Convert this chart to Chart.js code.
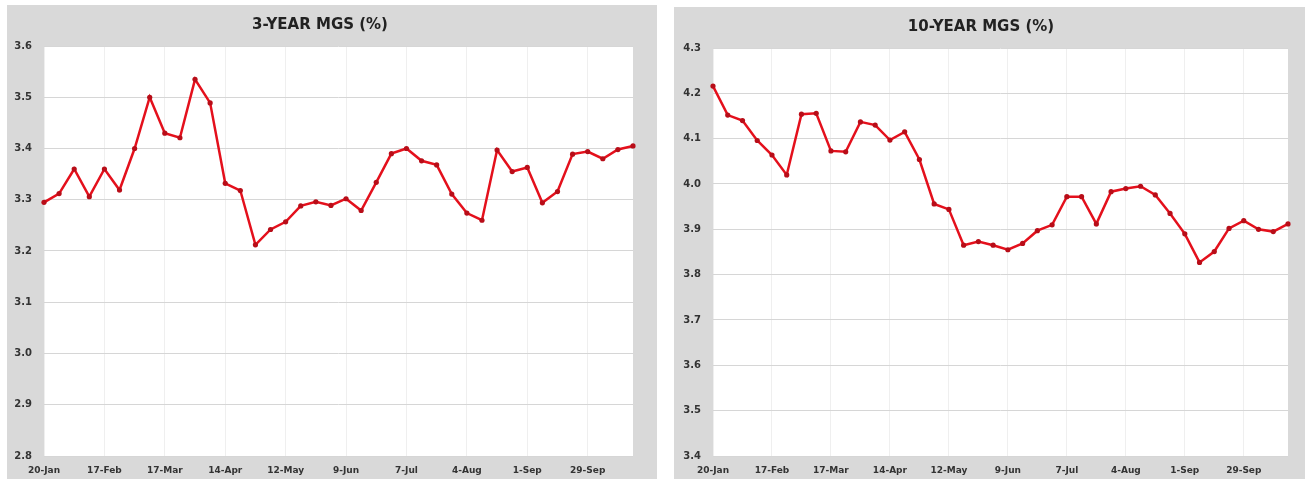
<!DOCTYPE html>
<html>
<head>
<meta charset="utf-8">
<title>MGS yields</title>
<script src="https://cdn.jsdelivr.net/npm/chart.js@4/dist/chart.umd.min.js"></script>
<style>
  html, body { margin: 0; padding: 0; background: #ffffff; width: 1307px; height: 479px; overflow: hidden; }
  .panel { position: absolute; background: #d9d9d9; }
  #p3 { left: 7px; top: 5px; width: 650px; height: 474px; }
  #p10 { left: 674px; top: 7px; width: 631px; height: 472px; }
  canvas { display: block; }
</style>
</head>
<body>
<div class="panel" id="p3"><canvas id="c3" width="650" height="474"></canvas></div>
<div class="panel" id="p10"><canvas id="c10" width="631" height="472"></canvas></div>
<script>
// Weekly observation dates
const weekLabels = [
  '20-Jan','27-Jan','3-Feb','10-Feb','17-Feb','24-Feb','3-Mar','10-Mar','17-Mar','24-Mar',
  '31-Mar','7-Apr','14-Apr','21-Apr','28-Apr','5-May','12-May','19-May','26-May','2-Jun',
  '9-Jun','16-Jun','23-Jun','30-Jun','7-Jul','14-Jul','21-Jul','28-Jul','4-Aug','11-Aug',
  '18-Aug','25-Aug','1-Sep','8-Sep','15-Sep','22-Sep','29-Sep','6-Oct','13-Oct','20-Oct'
];

// 3-year MGS yield (%)
const mgs3y = [
  3.295, 3.312, 3.360, 3.306, 3.360, 3.319, 3.400, 3.500, 3.430, 3.421,
  3.535, 3.489, 3.332, 3.318, 3.212, 3.242, 3.257, 3.288, 3.296, 3.289,
  3.302, 3.279, 3.334, 3.390, 3.400, 3.376, 3.368, 3.311, 3.274, 3.260,
  3.397, 3.355, 3.363, 3.294, 3.316, 3.389, 3.394, 3.380, 3.398, 3.405
];

// 10-year MGS yield (%)
const mgs10y = [
  4.216, 4.152, 4.140, 4.096, 4.064, 4.020, 4.154, 4.156, 4.073, 4.071,
  4.137, 4.130, 4.097, 4.115, 4.054, 3.956, 3.944, 3.865, 3.873, 3.865,
  3.855, 3.869, 3.897, 3.910, 3.972, 3.972, 3.912, 3.983, 3.990, 3.995,
  3.976, 3.935, 3.890, 3.827, 3.851, 3.902, 3.919, 3.900, 3.895, 3.912
];

// Axis ranges
const range3y = [2.8, 3.6];
const range10y = [3.4, 4.3];

const FONT = '"DejaVu Sans", Verdana, sans-serif';
const TEXT = '#333333';

// White plot-area background on the grey panel
const plotBackground = {
  id: 'plotBackground',
  beforeDraw(chart) {
    const a = chart.chartArea, ctx = chart.ctx;
    ctx.save();
    ctx.fillStyle = '#ffffff';
    ctx.fillRect(a.left, a.top, a.right - a.left, a.bottom - a.top);
    ctx.restore();
  }
};

function drawYieldChart(id, title, values, range, g) {
  return new Chart(document.getElementById(id), {
    type: 'line',
    data: {
      labels: weekLabels,
      datasets: [{
        data: values,
        borderColor: '#e4101c',
        borderWidth: 2.5,
        pointRadius: 2.6,
        pointBackgroundColor: '#b80d18',
        pointBorderColor: '#b80d18',
        pointBorderWidth: 0,
        tension: 0,
        fill: false
      }]
    },
    options: {
      responsive: false,
      animation: false,
      devicePixelRatio: 1,
      layout: { padding: { left: 0, right: g.right, top: 0, bottom: 0 } },
      plugins: {
        legend: { display: false },
        tooltip: { enabled: false },
        title: {
          display: true,
          text: title,
          color: '#222222',
          font: { family: FONT, size: 15, weight: 'bold' },
          padding: { top: g.titleTop, bottom: g.titleBottom }
        }
      },
      scales: {
        x: {
          offset: false,
          border: { display: false },
          grid: {
            drawTicks: false,
            color: c => (c.index % 4 === 0 ? '#efefef' : 'rgba(0,0,0,0)'),
            lineWidth: 1
          },
          ticks: {
            autoSkip: false,
            maxRotation: 0,
            minRotation: 0,
            padding: 9,
            color: TEXT,
            font: { family: FONT, size: 9, weight: 'bold' },
            callback: (v, i) => (i % 4 === 0 ? weekLabels[i] : '')
          },
          afterFit: s => { s.height = 23; }
        },
        y: {
          min: range[0],
          max: range[1],
          border: { display: false },
          grid: { drawTicks: false, color: '#d6d6d6', lineWidth: 1 },
          ticks: {
            stepSize: 0.1,
            padding: 12,
            color: TEXT,
            font: { family: FONT, size: 10, weight: 'bold' },
            callback: v => Number(v).toFixed(1)
          },
          afterFit: s => { s.width = g.yWidth; }
        }
      }
    },
    plugins: [plotBackground]
  });
}

drawYieldChart('c3', '3-YEAR MGS (%)', mgs3y, range3y,
  { right: 24, yWidth: 37, titleTop: 11, titleBottom: 12 });
drawYieldChart('c10', '10-YEAR MGS (%)', mgs10y, range10y,
  { right: 17, yWidth: 39, titleTop: 11, titleBottom: 12 });
</script>
</body>
</html>
